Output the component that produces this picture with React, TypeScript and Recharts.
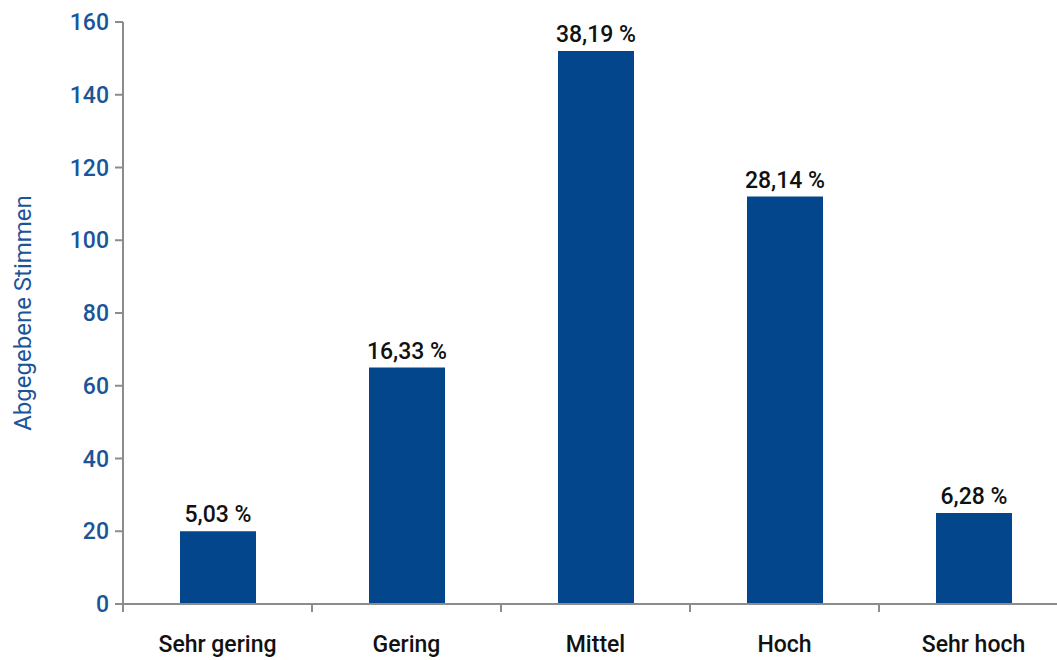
import React from 'react';
import { BarChart, Bar, XAxis, YAxis, LabelList } from 'recharts';

const categories = ['Sehr gering', 'Gering', 'Mittel', 'Hoch', 'Sehr hoch'];
const votes = [20, 65, 152, 112, 25];
const shares = ['5,03 %', '16,33 %', '38,19 %', '28,14 %', '6,28 %'];
const yTicks = [0, 20, 40, 60, 80, 100, 120, 140, 160];

const chartData = categories.map((name, i) => ({ name, votes: votes[i], share: shares[i] }));

const FONT = 'Roboto, "DejaVu Sans Condensed", sans-serif';
const BLUE = '#03468C';
const AXIS = '#8c8c8c';

export default function App() {
  return (
    <div
      style={{
        position: 'fixed',
        top: 0,
        left: 0,
        width: 1057,
        height: 660,
        overflow: 'hidden',
        background: '#fff',
        fontFamily: FONT,
      }}
    >
      <BarChart
        width={1070}
        height={660}
        data={chartData}
        margin={{ top: 22, right: 2, bottom: 0, left: 0 }}
        barCategoryGap="30%"
      >
        <YAxis
          domain={[0, 160]}
          ticks={yTicks}
          width={123}
          stroke={AXIS}
          strokeWidth={2}
          tickSize={8}
          tick={{ fill: '#1a559a', fontSize: 23, fontWeight: 500, fontFamily: FONT }}
          tickMargin={6}
          label={{
            value: 'Abgegebene Stimmen',
            angle: -90,
            position: 'insideLeft',
            offset: 22,
            style: { fill: '#1a559a', fontSize: 24, fontWeight: 400, fontFamily: FONT, textAnchor: 'middle' },
          }}
        />
        <XAxis
          dataKey="name"
          stroke={AXIS}
          strokeWidth={2}
          tickSize={8}
          height={56}
          tick={{ fill: '#111', fontSize: 23, fontWeight: 500, fontFamily: FONT, dy: 22 }}
          interval={0}
          tickLine={{ transform: 'translate(-94.5,0)' }}
        />
        <Bar dataKey="votes" fill={BLUE} isAnimationActive={false} barSize={76}>
          <LabelList
            dataKey="share"
            position="top"
            offset={9}
            style={{ fill: '#111', fontSize: 23, fontWeight: 500, fontFamily: FONT }}
          />
        </Bar>
      </BarChart>
    </div>
  );
}
